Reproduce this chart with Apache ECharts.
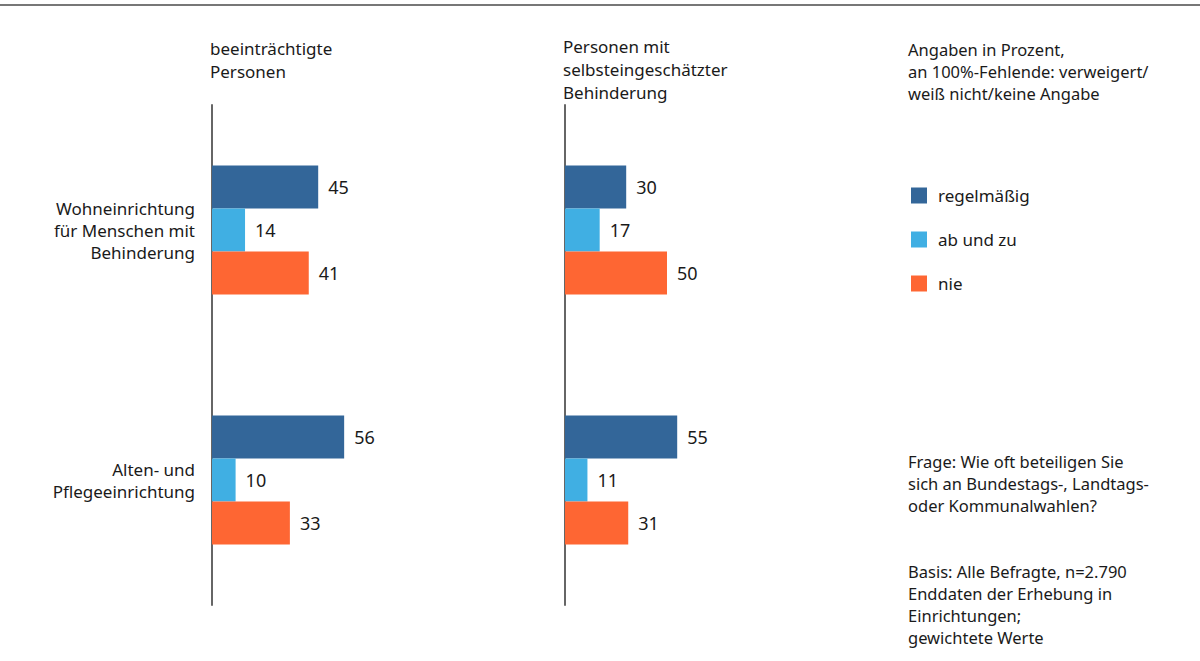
<!DOCTYPE html>
<html>
<head>
<meta charset="utf-8">
<script src="https://cdn.jsdelivr.net/npm/echarts@6/dist/echarts.min.js"></script>
<style>
html,body{margin:0;padding:0;background:#fff;}
#chart{width:1200px;height:661px;}
</style>
</head>
<body>
<div id="chart"></div>
<script>
const categories = ['Wohneinrichtung\nfür Menschen mit\nBehinderung', 'Alten- und\nPflegeeinrichtung'];
const seriesNames = ['regelmäßig', 'ab und zu', 'nie'];
const colors = ['#336699', '#40afe3', '#fe6633'];
// beeinträchtigte Personen
const leftRegel = [45, 56];
const leftAbUndZu = [14, 10];
const leftNie = [41, 33];
// Personen mit selbsteingeschätzter Behinderung
const rightRegel = [30, 55];
const rightAbUndZu = [17, 11];
const rightNie = [50, 31];

const leftHeader = 'beeinträchtigte\nPersonen';
const rightHeader = 'Personen mit\nselbsteingeschätzter\nBehinderung';
const noteTop = 'Angaben in Prozent,\nan 100%-Fehlende: verweigert/\nweiß nicht/keine Angabe';
const noteQuestion = 'Frage: Wie oft beteiligen Sie\nsich an Bundestags-, Landtags-\noder Kommunalwahlen?';
const noteBase = 'Basis: Alle Befragte, n=2.790\nEnddaten der Erhebung in\nEinrichtungen;\ngewichtete Werte';

const FONT = 'Noto Sans';
const leftData = [leftRegel, leftAbUndZu, leftNie];
const rightData = [rightRegel, rightAbUndZu, rightNie];

function mkSeries(data, idx) {
  return data.map((vals, i) => ({
    name: seriesNames[i],
    type: 'bar',
    xAxisIndex: idx, yAxisIndex: idx,
    data: vals,
    barWidth: 43,
    barGap: '0%',
    itemStyle: { color: colors[i] },
    label: { show: true, position: 'right', distance: 10, fontFamily: FONT, fontSize: 18, color: '#1a1a1a' },
    emphasis: { disabled: true }
  }));
}

const chart = echarts.init(document.getElementById('chart'), null, { renderer: 'svg' });
const textStyle = (t, x, y, lh, fs) => ({
  type: 'text', left: x, top: y,
  style: { text: t, fontFamily: FONT, fontSize: fs || 16.5, lineHeight: lh || 22, fill: '#1a1a1a' }
});
chart.setOption({
  animation: false,
  textStyle: { fontFamily: FONT },
  grid: [
    { left: 212, top: 105, width: 236, height: 500 },
    { left: 565, top: 105, width: 204, height: 500 }
  ],
  xAxis: [
    { gridIndex: 0, type: 'value', min: 0, max: 100, show: false },
    { gridIndex: 1, type: 'value', min: 0, max: 100, show: false }
  ],
  yAxis: [
    { gridIndex: 0, type: 'category', data: categories, inverse: true,
      axisLine: { show: true, lineStyle: { color: '#666', width: 2 } }, axisTick: { show: false },
      axisLabel: { margin: 17, fontFamily: FONT, fontSize: 17, lineHeight: 22, color: '#1a1a1a', align: 'right' } },
    { gridIndex: 1, type: 'category', data: categories, inverse: true,
      axisLine: { show: true, lineStyle: { color: '#666', width: 2 } }, axisTick: { show: false },
      axisLabel: { show: false } }
  ],
  legend: {
    data: seriesNames, orient: 'vertical', left: 911, top: 187, padding: 0,
    itemWidth: 16, itemHeight: 16, itemGap: 27, icon: 'rect',
    selectedMode: false,
    textStyle: { fontFamily: FONT, fontSize: 17, color: '#1a1a1a', padding: [0, 0, 0, 6] }
  },
  graphic: [
    { type: 'line', shape: { x1: 0, y1: 5, x2: 1200, y2: 5 }, style: { stroke: '#777', lineWidth: 2 } },
    textStyle(leftHeader, 210, 37, 23, 17),
    textStyle(rightHeader, 563, 35, 23, 17),
    textStyle(noteTop, 908, 38),
    textStyle(noteQuestion, 908, 450),
    textStyle(noteBase, 908, 560, 22)
  ],
  series: [...mkSeries(leftData, 0), ...mkSeries(rightData, 1)]
});
</script>
</body>
</html>
